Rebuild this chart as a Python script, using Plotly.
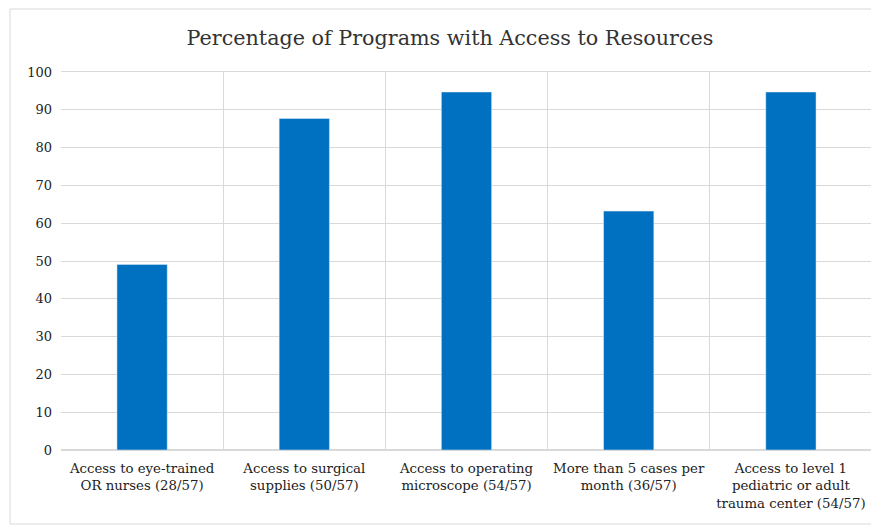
import plotly.graph_objects as go

categories = [
    "Access to eye-trained<br>OR nurses (28/57)",
    "Access to surgical<br>supplies (50/57)",
    "Access to operating<br>microscope (54/57)",
    "More than 5 cases per<br>month (36/57)",
    "Access to level 1<br>pediatric or adult<br>trauma center (54/57)",
]
values = [49.1, 87.7, 94.7, 63.2, 94.7]
y_ticks = [0, 10, 20, 30, 40, 50, 60, 70, 80, 90, 100]

# page body has an 8px offset
W, H = 871, 517
L, R, T, B = 53, 7, 64, 75
pw, ph = W - L - R, H - T - B

fig = go.Figure(go.Bar(x=categories, y=values, marker_color="#0070C0", width=0.31))

fig.update_layout(
    width=W, height=H,
    margin=dict(l=L, r=R, t=T, b=B),
    paper_bgcolor="white", plot_bgcolor="white",
    font=dict(family="DejaVu Serif, serif", color="#333333"),
    title=dict(text="Percentage of Programs with Access to Resources",
               x=442 / W, xref="container", xanchor="center",
               y=1 - 30 / H, yanchor="middle",
               font=dict(size=20.7, color="#333333")),
    showlegend=False,
    bargap=0.69,
)
fig.update_xaxes(
    type="category", tickson="boundaries", showgrid=True, gridcolor="#D9D9D9",
    gridwidth=1, ticks="", tickfont=dict(size=13.3, color="#222222"),
    showline=True, linecolor="#D9D9D9", mirror=True, range=[-0.5, 4.5],
    ticklabelstandoff=6,
)
fig.update_yaxes(
    range=[0, 100], tickvals=y_ticks, showgrid=True, gridcolor="#D9D9D9",
    zeroline=True, zerolinecolor="#D9D9D9", ticks="",
    tickfont=dict(size=13, color="#222222"),
    ticklabelstandoff=8,
)
fig.add_shape(type="rect", xref="paper", yref="paper",
              x0=(2 - L) / pw, x1=(870 - L) / pw,
              y0=(H - B - 516) / ph, y1=(H - B - 1) / ph,
              line=dict(color="#D9D9D9", width=1), layer="below")

fig.write_html("out.html")
